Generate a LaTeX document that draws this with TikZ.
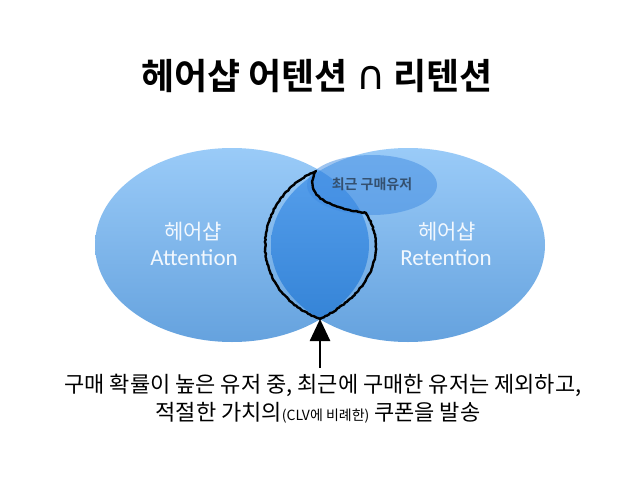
\documentclass[tikz,border=0pt]{standalone}
\usepackage{fontspec}
\setmainfont{Noto Sans CJK KR}[BoldFont={Noto Sans CJK KR Bold}]
\newfontfamily\latfont{Carlito}
\newfontfamily\symfont{DejaVu Sans}
\usetikzlibrary{arrows.meta,decorations.pathmorphing}
\definecolor{ellTop}{HTML}{9ACBF8}
\definecolor{ellBot}{HTML}{65A2DE}
\definecolor{lensTop}{HTML}{5AA2EE}
\definecolor{lensBot}{HTML}{3080D4}
\definecolor{smallFill}{HTML}{3F8BE2}
\definecolor{smallText}{HTML}{34506F}
\definecolor{labelText}{HTML}{F2F8FE}
\begin{document}
\begin{tikzpicture}[x=1pt,y=-1pt,
  sketch/.style={line width=2.4pt, black, line join=round, line cap=round,
    decorate, decoration={random steps, segment length=2pt, amplitude=0.5pt}},
  arrowline/.style={line width=2.6pt, black, -{Triangle[width=20pt,length=22pt]}},
  biglabel/.style={text=labelText, font=\fontsize{21}{24}\selectfont, align=center, inner sep=0pt},
  latlabel/.style={text=labelText, font=\fontsize{23}{26}\latfont, inner sep=0pt},
]
\useasboundingbox (0,0) rectangle (638,479);
\fill[white] (0,0) rectangle (638,479);

% title
\node[font=\fontsize{36}{42}\selectfont\bfseries, inner sep=0pt] (title) at (317,76)
  {헤어샵 어텐션 {\symfont\mdseries\fontsize{40}{42}\selectfont ∩} 리텐션};

% ellipses
\shade[top color=ellTop, bottom color=ellBot] (232,245) ellipse [x radius=137pt, y radius=97pt];
\shade[top color=ellTop, bottom color=ellBot] (408,245) ellipse [x radius=137pt, y radius=97pt];
\begin{scope}
  \clip (232,245) ellipse [x radius=137pt, y radius=97pt];
  \shade[top color=lensTop, bottom color=lensBot] (408,245) ellipse [x radius=137pt, y radius=97pt];
\end{scope}
\fill[smallFill, opacity=0.5] (372,185) ellipse [x radius=65pt, y radius=30pt];

% labels
\node[text=smallText, font=\fontsize{14}{16}\selectfont\bfseries, inner sep=0pt] (recent) at (372,184) {최근 구매유저};
\node[biglabel] (attK) at (193,232) {헤어샵};
\node[latlabel] (attE) at (194,258) {Attention};
\node[biglabel] (retK) at (447,232) {헤어샵};
\node[latlabel] (retE) at (446,258) {Retention};

% hand-drawn outline
\coordinate (lenstop) at (316,171);
\coordinate (lensbot) at (320,319);
\coordinate (notch) at (366,213);
\draw[sketch] (lenstop) .. controls (250,200) and (245,290) .. (lensbot)
  .. controls (378,290) and (386,245) .. (notch)
  .. controls (330,208) and (302,196) .. (lenstop);

% arrow
\coordinate (arrowstart) at (320,368);
\draw[arrowline] (arrowstart) -- (lensbot);

% bottom text
\node[font=\fontsize{22}{26}\selectfont, inner sep=0pt] (line1) at (323,385)
  {구매 확률이 높은 유저 중, 최근에 구매한 유저는 제외하고,};
\node[font=\fontsize{22}{26}\selectfont, inner sep=0pt] (line2) at (318,413)
  {적절한 가치의{\fontsize{14}{16}\selectfont(CLV에 비례한)} 쿠폰을 발송};
\end{tikzpicture}
\end{document}
